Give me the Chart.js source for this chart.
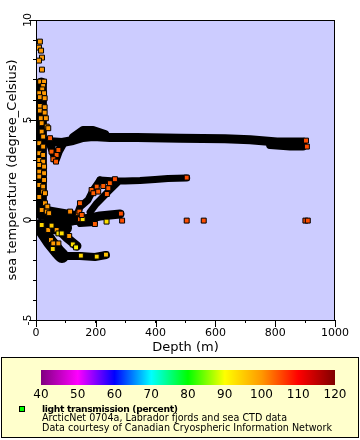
<!DOCTYPE html>
<html><head><meta charset="utf-8">
<script src="https://cdn.jsdelivr.net/npm/chart.js@4.4.1/dist/chart.umd.min.js"></script>
<style>
html,body{margin:0;padding:0;background:#fff;}
body{width:360px;height:440px;position:relative;overflow:hidden;font-family:'DejaVu Sans',sans-serif;color:#000;}
#main{position:absolute;left:0;top:0;width:360px;height:355px;}
#legend{position:absolute;left:1px;top:357px;width:358px;height:81px;box-sizing:border-box;border:1px solid #000;background:#ffffcc;}
#cbwrap{position:absolute;left:0;top:365px;width:360px;height:40px;}
#marker{position:absolute;left:19px;top:406px;width:4px;height:4px;background:#00ff00;border:1px solid #000;}
#ltext{position:absolute;left:42px;top:404px;font-size:9.6px;line-height:9.4px;white-space:nowrap;}
#ltext b{font-size:9.2px;letter-spacing:-0.35px;}
</style>
</head>
<body>
<div id="main"><canvas id="c"></canvas></div>
<div id="legend"></div>
<div id="cbwrap"><canvas id="cb"></canvas></div>
<div id="marker"></div>
<div id="ltext"><b>light transmission (percent)</b><br>ArcticNet 0704a, Labrador fjords and sea CTD data<br>Data courtesy of Canadian Cryospheric Information Network</div>
<script>
// ---------- data ----------
const depthLabels = [0, 200, 400, 600, 800, 1000];
const tempLabels = [-5, 0, 5, 10];
const lightTicks = [40, 50, 60, 70, 80, 90, 100, 110, 120];
const lightColors = ['#800080', '#ff00ff', '#0000ff', '#00ffff', '#00ff00', '#ffff00', '#ff9900', '#ff0000', '#800000'];

// dense CTD profiles (depth m, temperature degC) - drawn as the black bands
const profileA = [[37,3.93],[87,3.875],[124,3.975],[157,4.125],[191,4.175],[247,4.125],[338,4.125],[482,4.09],[632,4.06],[716,4.01],[806,3.9],[866,3.9],[893,3.9]];
const profileAHump = [[124,4.15],[157,4.5],[191,4.5],[231,4.3]];
const profileADip = [[47,3.8],[66,3.0],[77,3.45],[90,3.8]];
const profileATail = [[783,3.75],[850,3.68],[893,3.68]];
const profileSurface = [[18,6.85],[18,0.5]];
const profileB = [[214,2.0],[264,1.95],[298,1.95],[348,1.98],[398,2.03],[441,2.08],[504,2.1]];
const profileBLeft = [[214,2.0],[191,1.5],[174,1.0],[147,0.65],[137,0.25]];
const profileBRight = [[271,1.85],[247,1.5],[224,1.15],[201,0.8],[181,0.4]];
const profileC = [[104,-0.1],[147,0.03],[181,0.1],[214,0.2],[247,0.25],[281,0.3]];
const profileC2 = [[147,-0.2],[197,-0.15]];
const profileBlobUpper = [[13,0.4],[130,0.1]];
const profileBlobLower = [[13,-0.3],[97,-0.4]];
const profileDDiag = [[20,-0.5],[47,-1.1],[74,-1.6],[87,-1.8]];
const profileD = [[74,-1.8],[147,-1.8],[197,-1.85],[234,-1.75]];
const profileEDiag = [[70,-0.4],[104,-0.9],[137,-1.3]];

// visible samples: [depth m, temperature degC, light transmission %]
const samples = [
 [13,8.92,100],[10,8.62,100],[17,8.47,100],[20,8.12,100],[10,7.97,100],[20,7.52,100],
 [14,6.92,100],[27,6.92,100],[24,6.70,100],[21,6.53,100],[11,6.34,100],[27,6.34,100],
 [13,6.14,100],[29,6.09,100],[13,5.70,100],[29,5.64,100],[13,5.47,100],[29,5.37,100],
 [16,5.09,100],[33,5.09,100],[19,4.84,100],[36,4.67,100],[41,4.59,100],[19,4.42,100],
 [47,4.09,104],[52,3.42,104],[75,3.5,104],[69,3.25,104],[58,3.04,104],[67,2.92,104],
 [24,4.17,100],[11,3.84,100],[24,3.67,100],[11,3.34,100],[24,3.25,100],[11,3.00,100],
 [24,2.92,100],[11,2.75,100],[27,2.67,100],[11,2.42,100],[27,2.34,100],[11,2.17,100],
 [27,2.00,100],[11,1.75,100],[24,1.67,100],[24,1.42,100],[30,1.34,100],[11,1.15,100],
 [30,0.84,100],[38,0.67,100],[19,0.50,100],[36,0.42,100],[44,0.34,100],
 [114,0.42,101],[141,0.34,102],[147,0.04,104],
 [41,-0.5,100],[69,-0.5,100],[50,-1.0,100],[58,-1.17,100],[75,-1.17,100],[111,-0.8,100],
 [19,-0.25,94],[52,-0.28,95],[75,-0.67,93],[86,-0.67,93],[56,-1.45,94],[123,-1.22,93],
 [134,-1.37,91],[150,-1.78,94],[203,-1.83,94],[234,-1.73,96],[236,-0.08,93],[156,0.04,93],
 [147,0.84,104],[145,0.42,104],[153,0.25,104],[186,1.5,104],[192,1.34,104],[203,1.67,104],
 [208,1.42,104],[225,1.7,104],[247,1.84,104],[242,1.59,104],[237,1.3,104],[264,2.04,105],
 [504,2.12,105],[197,-0.2,104],[284,0.32,105],[288,-0.03,105],
 [903,3.97,105],[906,3.67,105],
 [504,-0.03,105],[561,-0.03,105],[901,-0.03,105],[909,-0.03,105]
];

// ---------- styles ----------
const bandWidths = {A:9, AHump:8, ADip:8, ATail:8, Surface:11, B:7, BLeft:7, BRight:7, C:9, C2:6, BlobUpper:14, BlobLower:14, DDiag:14, D:8, EDiag:9};
const bandSets = {A:profileA, AHump:profileAHump, ADip:profileADip, ATail:profileATail, Surface:profileSurface, B:profileB, BLeft:profileBLeft, BRight:profileBRight, C:profileC, C2:profileC2, BlobUpper:profileBlobUpper, BlobLower:profileBlobLower, DDiag:profileDDiag, D:profileD, EDiag:profileEDiag};
const minorTick = 3, majorTick = 7;

function hexToRgb(h){return [parseInt(h.substr(1,2),16),parseInt(h.substr(3,2),16),parseInt(h.substr(5,2),16)];}
function lightColor(v){
  const t = lightTicks;
  if (v <= t[0]) return lightColors[0];
  if (v >= t[t.length-1]) return lightColors[t.length-1];
  for (let i=0;i<t.length-1;i++){
    if (v <= t[i+1]){
      const f=(v-t[i])/(t[i+1]-t[i]);
      const a=hexToRgb(lightColors[i]), b=hexToRgb(lightColors[i+1]);
      return 'rgb('+a.map((c,k)=>Math.round(c+(b[k]-c)*f)).join(',')+')';
    }
  }
}

Chart.defaults.font.family = "'DejaVu Sans', sans-serif";
Chart.defaults.color = '#000';

const datasets = [];
datasets.push({
  type:'scatter', label:'light transmission (percent)',
  data: samples.map(s=>({x:s[0],y:s[1]})),
  pointStyle:'rect', pointRadius:3.5, pointHoverRadius:3.5,
  pointBackgroundColor: samples.map(s=>lightColor(s[2])),
  pointBorderColor:'#000', pointBorderWidth:1, order:0
});
Object.keys(bandSets).forEach(k=>{
  datasets.push({
    type:'line', label:k, data: bandSets[k].map(p=>({x:p[0],y:p[1]})),
    borderColor:'#000', borderWidth:bandWidths[k], pointRadius:0, fill:false, tension:0,
    borderJoinStyle:'round', borderCapStyle:'round', order:1
  });
});

const framePlugin = {
  id:'frame',
  beforeDraw(chart){
    const {ctx, chartArea:a} = chart;
    ctx.save(); ctx.fillStyle='#ccccff';
    ctx.fillRect(a.left, a.top, a.right-a.left, a.bottom-a.top);
    ctx.restore();
  },
  afterDraw(chart){
    const {ctx, chartArea:a, scales:{x, y}} = chart;
    ctx.save(); ctx.strokeStyle='#000'; ctx.lineWidth=1;
    ctx.strokeRect(Math.round(a.left)+0.5, Math.round(a.top)+0.5, Math.round(a.right-a.left)-1, Math.round(a.bottom-a.top));
    // longer tick marks at labelled values
    ctx.beginPath();
    depthLabels.forEach(v=>{
      const px = Math.round(x.getPixelForValue(v))+0.5;
      ctx.moveTo(px, a.bottom); ctx.lineTo(px, a.bottom+majorTick);
    });
    tempLabels.forEach(v=>{
      const py = Math.round(y.getPixelForValue(v))+0.5;
      ctx.moveTo(a.left, py); ctx.lineTo(a.left-majorTick, py);
    });
    ctx.stroke();
    ctx.restore();
  }
};

const axisGrid = {drawOnChartArea:false, drawTicks:true, tickLength:minorTick, color:'#000', tickColor:'#000'};

new Chart(document.getElementById('c'), {
  data:{datasets},
  options:{
    responsive:true, maintainAspectRatio:false, animation:false, events:[],
    layout:{padding:{left:0, top:20, right:25, bottom:0}},
    plugins:{legend:{display:false}, tooltip:{enabled:false}},
    scales:{
      x:{type:'linear', min:0, max:1000,
        ticks:{stepSize:100, autoSkip:false, maxRotation:0, padding:4, font:{size:11}, color:'#000',
          callback:v=>depthLabels.includes(v)?String(v):''},
        grid:axisGrid, border:{display:true,color:'#000'},
        title:{display:true, text:'Depth (m)', font:{size:13}, color:'#000', padding:{top:0,bottom:0}},
        afterFit(s){s.height=35;}
      },
      y:{type:'linear', min:-5, max:10,
        ticks:{stepSize:1, autoSkip:false, minRotation:90, maxRotation:90, crossAlign:'center', padding:-2, font:{size:11}, color:'#000',
          callback:v=>tempLabels.includes(v)?String(v):''},
        grid:axisGrid, border:{display:true,color:'#000'},
        title:{display:true, text:'sea temperature (degree_Celsius)', font:{size:13}, color:'#000', padding:{top:5,bottom:0}},
        afterFit(s){s.width=36;}
      }
    }
  },
  plugins:[framePlugin]
});

const gradientPlugin = {
  id:'grad',
  beforeDatasetsDraw(chart){
    const {ctx, chartArea:a, scales:{x}} = chart;
    const lo = lightTicks[0], hi = lightTicks[lightTicks.length-1];
    const g = ctx.createLinearGradient(x.getPixelForValue(lo),0,x.getPixelForValue(hi),0);
    lightTicks.forEach((v,i)=>g.addColorStop((v-lo)/(hi-lo), lightColors[i]));
    ctx.save(); ctx.fillStyle=g;
    ctx.fillRect(a.left, a.top, a.right-a.left, a.bottom-a.top);
    ctx.restore();
  }
};

new Chart(document.getElementById('cb'), {
  type:'scatter',
  data:{datasets:[{data:[]}]},
  options:{
    responsive:true, maintainAspectRatio:false, animation:false, events:[],
    layout:{padding:{left:41, right:25, top:5, bottom:0}},
    plugins:{legend:{display:false}, tooltip:{enabled:false}},
    scales:{
      x:{type:'linear', min:lightTicks[0], max:lightTicks[lightTicks.length-1],
        ticks:{stepSize:10, autoSkip:false, maxRotation:0, padding:3, font:{size:12}, color:'#000',
          callback:v=>lightTicks.includes(v)?String(v):''},
        grid:{display:false, drawTicks:false}, border:{display:false},
        afterFit(s){s.height=20;}
      },
      y:{display:false, min:0, max:1}
    }
  },
  plugins:[gradientPlugin]
});
</script>
</body></html>
